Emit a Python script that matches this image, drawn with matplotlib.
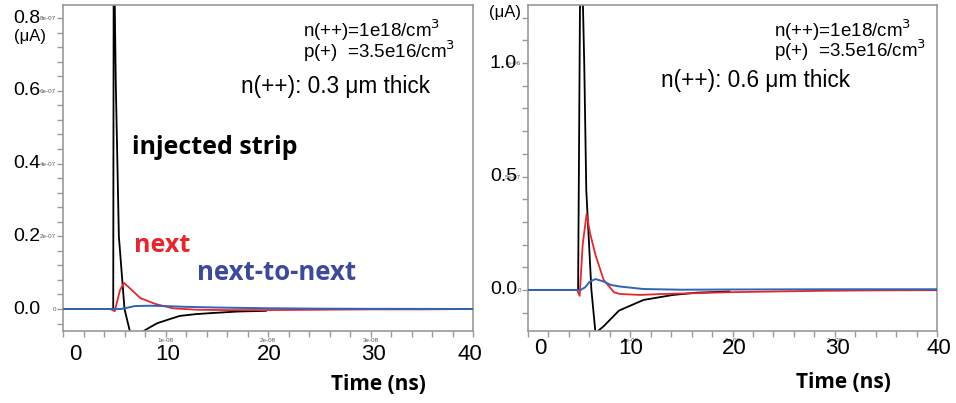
import matplotlib.pyplot as plt
from matplotlib.transforms import blended_transform_factory
from matplotlib.ticker import MultipleLocator

# current pulses (uA) vs time (ns)
# left panel: n(++) 0.3 um thick
t_inj_03 = [0, 4.6, 4.9, 4.95, 5.15, 5.45, 6.0, 6.6, 7.6, 8.5, 9.2, 10.5, 11.4, 13.0, 14.6, 17.0, 19.8]
i_inj_03 = [0, 0, 0, 1.05, 0.62, 0.2, 0.0, -0.07, -0.065, -0.05, -0.039, -0.027, -0.019, -0.014, -0.011, -0.007, -0.005]
t_next_03 = [0, 4.6, 5.05, 5.56, 5.95, 6.6, 7.55, 9.0, 10.7, 13, 16, 20, 25, 30, 35, 40]
i_next_03 = [0, 0, -0.006, 0.052, 0.072, 0.055, 0.03, 0.014, 0.002, -0.002, -0.003, -0.003, -0.002, -0.001, -0.001, 0]
t_nn_03 = [0, 5.6, 6.2, 7.0, 8.5, 10, 12, 15, 20, 25, 30, 40]
i_nn_03 = [0, 0, 0.003, 0.008, 0.009, 0.008, 0.006, 0.004, 0.002, 0.001, 0.0005, 0]

# right panel: n(++) 0.6 um thick
t_inj_06 = [0, 4.8, 4.9, 5.15, 5.5, 5.7, 6.2, 6.6, 7.4, 8.9, 11.3, 14.2, 16.5, 19.7]
i_inj_06 = [0, 0, 0, 1.7, 1.0, 0.44, 0.0, -0.19, -0.16, -0.091, -0.044, -0.022, -0.012, -0.007]
t_next_06 = [0, 4.8, 5.05, 5.35, 5.73, 6.07, 6.6, 7.4, 8.4, 9.0, 11.0, 13, 15.8, 19.7, 24, 28.4, 34, 40]
i_next_06 = [0, 0, -0.026, 0.2, 0.335, 0.25, 0.154, 0.044, -0.01, -0.018, -0.022, -0.018, -0.015, -0.01, -0.007, -0.004, -0.002, -0.001]
t_nn_06 = [0, 5.15, 5.6, 6.0, 6.6, 7.4, 8.1, 9.0, 11.3, 15, 20, 30, 40]
i_nn_06 = [0, 0, 0.012, 0.035, 0.048, 0.037, 0.022, 0.015, 0.004, 0.001, 0.002, 0.003, 0.003]

big_x_labels = ["0", "10", "20", "30", "40"]
small_x_labels = ["1e-08", "2e-08", "3e-08"]
left_y_ticks = [0, 0.2, 0.4, 0.6, 0.8]
left_y_small = ["0", "2e-07", "4e-07", "6e-07", "8e-07"]
left_y_big = ["0.0", "0.2", "0.4", "0.6", "0.8"]
right_y_ticks = [0, 0.5, 1.0]
right_y_small = ["0", "5e-07", "1e-06"]
right_y_big = ["0.0", "0.5", "1.0"]

black = "black"
red = "#e8252b"
blue = "#2f64b6"
grey = "#9a9a9a"
bold_font = ["Open Sans", "DejaVu Sans"]

W, H = 956, 403
fig = plt.figure(figsize=(W / 100, H / 100), dpi=100)
plt.rcParams['font.family'] = ['Liberation Sans', 'DejaVu Sans']

def px(x, y):
    return x / W, 1 - y / H

ax1 = fig.add_axes([63 / W, 1 - 331 / H, 410 / W, 326 / H])
ax2 = fig.add_axes([528 / W, 1 - 331 / H, 409 / W, 326 / H])

def style(ax, yticks, ysmall, yminor):
    for s in ax.spines.values():
        s.set_color(grey)
        s.set_linewidth(1.2)
    ax.set_xlim(0, 40)
    ax.set_xticks([10, 20, 30], small_x_labels)
    ax.xaxis.set_minor_locator(MultipleLocator(2))
    ax.set_yticks(yticks, ysmall)
    ax.yaxis.set_minor_locator(MultipleLocator(yminor))
    ax.tick_params(which="both", color=grey, length=4, width=1, labelsize=4.5,
                   labelcolor="#555555", pad=1)

# left panel
ax1.plot(t_inj_03, i_inj_03, color=black, lw=1.3, zorder=2)
ax1.plot(t_next_03, i_next_03, color=red, lw=1.3, zorder=3)
ax1.plot(t_nn_03, i_nn_03, color=blue, lw=1.4, zorder=4)
ax1.set_ylim(-0.0605, 0.836)
style(ax1, left_y_ticks, left_y_small, 0.04)

# right panel
ax2.plot(t_inj_06, i_inj_06, color=black, lw=1.3, zorder=2)
ax2.plot(t_next_06, i_next_06, color=red, lw=1.3, zorder=3)
ax2.plot(t_nn_06, i_nn_06, color=blue, lw=1.4, zorder=4)
ax2.set_ylim(-0.181, 1.256)
style(ax2, right_y_ticks, right_y_small, 0.1)

# big overlaid axis labels
for ax, ticks, labels, xr in [(ax1, left_y_ticks, left_y_big, 40), (ax2, right_y_ticks, right_y_big, 517)]:
    tr = blended_transform_factory(fig.transFigure, ax.transData)
    for v, lab in zip(ticks, labels):
        ax.text(xr / W, v, lab, transform=tr, ha="right", va="center", fontsize=14, clip_on=False)

big_x_left = [1.2, 10.2, 20.1, 30.3, 39.7]
big_x_right = [1.2, 10.0, 20.2, 30.3, 40.2]
for ax, xs, yc in [(ax1, big_x_left, 355), (ax2, big_x_right, 349)]:
    tr = blended_transform_factory(ax.transData, fig.transFigure)
    for x, lab in zip(xs, big_x_labels):
        ax.text(x, 1 - yc / H, lab, transform=tr, ha="center", va="center", fontsize=16, clip_on=False)

fig.text(*px(30, 37), "(\u03bcA)", ha="center", va="center", fontsize=12)
fig.text(*px(505, 12), "(\u03bcA)", ha="center", va="center", fontsize=12)

fig.text(*px(378, 385), "Time (ns)", ha="center", va="center", fontsize=15,
         fontweight="bold", family=bold_font)
fig.text(*px(843, 382), "Time (ns)", ha="center", va="center", fontsize=15,
         fontweight="bold", family=bold_font)

# annotations
fig.text(*px(303, 30), "n(++)=1e18/cm$^3$", ha="left", va="center", fontsize=13.5)
fig.text(*px(303, 51), "p(+)  =3.5e16/cm$^3$", ha="left", va="center", fontsize=13.5)
fig.text(*px(430, 86), "n(++): 0.3 \u03bcm thick", ha="right", va="center", fontsize=16.3)
fig.text(*px(774, 30), "n(++)=1e18/cm$^3$", ha="left", va="center", fontsize=13.5)
fig.text(*px(774, 50), "p(+)  =3.5e16/cm$^3$", ha="left", va="center", fontsize=13.5)
fig.text(*px(661, 81), "n(++): 0.6 \u03bcm thick", ha="left", va="center", fontsize=16.3)

fig.text(*px(132, 147), "injected strip", ha="left", va="center", fontsize=18,
         fontweight="bold", color=black, family=bold_font)
fig.text(*px(134, 246), "next", ha="left", va="center", fontsize=18,
         fontweight="bold", color=red, family=bold_font)
fig.text(*px(197, 272), "next-to-next", ha="left", va="center", fontsize=18.5,
         fontweight="bold", color="#3c4a9e", family=bold_font)

fig.savefig("out.png", dpi=100)
